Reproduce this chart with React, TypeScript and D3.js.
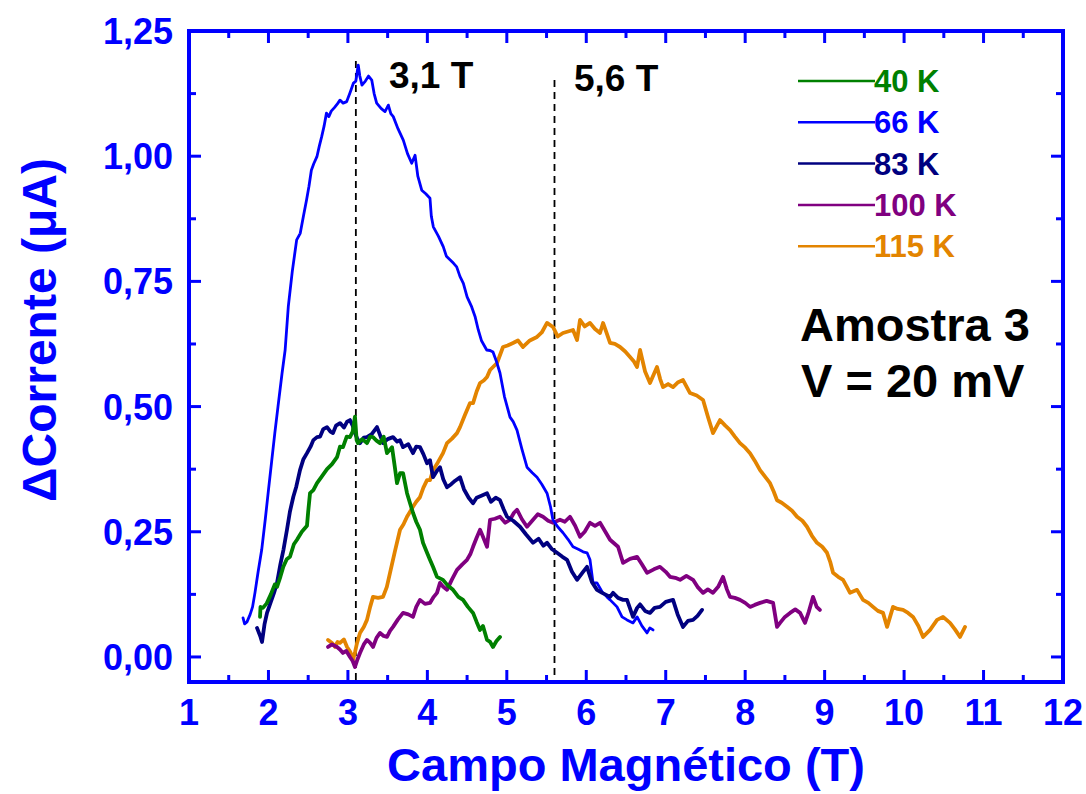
import React from "react";
import * as d3 from "d3";

// ΔCorrente (μA) versus magnetic field for sample 3, at V = 20 mV
type Pt = [number, number];

const temps40: Pt[] = [
  [1.894,0.080],[1.90,0.100],[1.93,0.098],[1.978,0.107],[2.03,0.125],[2.08,0.145],[2.108,0.140],[2.15,0.160],
  [2.187,0.180],[2.23,0.195],[2.271,0.200],[2.32,0.225],[2.359,0.234],[2.42,0.250],[2.485,0.262],[2.50,0.290],
  [2.523,0.327],[2.565,0.333],[2.611,0.347],[2.67,0.360],[2.737,0.375],[2.80,0.385],[2.863,0.399],[2.90,0.420],
  [2.938,0.419],[2.985,0.440],[3.026,0.439],[3.06,0.450],[3.089,0.480],[3.11,0.433],[3.127,0.427],[3.18,0.435],
  [3.240,0.427],[3.28,0.440],[3.316,0.439],[3.36,0.432],[3.404,0.427],[3.45,0.440],[3.492,0.407],[3.555,0.419],
  [3.59,0.380],[3.618,0.347],[3.656,0.367],[3.694,0.367],[3.744,0.327],[3.782,0.307],[3.819,0.288],[3.86,0.270],
  [3.907,0.254],[3.945,0.228],[3.996,0.208],[4.03,0.195],[4.071,0.180],[4.121,0.160],[4.197,0.154],[4.26,0.142],
  [4.323,0.134],[4.39,0.120],[4.449,0.114],[4.51,0.100],[4.575,0.088],[4.62,0.070],[4.663,0.054],[4.70,0.062],
  [4.751,0.034],[4.79,0.030],[4.826,0.020],[4.87,0.032],[4.914,0.040],
];

const temps66: Pt[] = [
  [1.68,0.078],[1.70,0.066],[1.73,0.070],[1.77,0.085],[1.80,0.100],[1.83,0.128],[1.87,0.170],[1.915,0.214],
  [1.96,0.275],[2.00,0.333],[2.04,0.390],[2.08,0.447],[2.12,0.500],[2.17,0.565],[2.21,0.613],[2.25,0.700],
  [2.30,0.770],[2.355,0.833],[2.40,0.846],[2.44,0.880],[2.48,0.913],[2.51,0.940],[2.54,0.972],[2.57,0.985],
  [2.61,0.999],[2.64,1.020],[2.67,1.039],[2.70,1.060],[2.73,1.086],[2.76,1.079],[2.79,1.090],[2.83,1.097],
  [2.87,1.105],[2.90,1.112],[2.94,1.106],[2.985,1.109],[3.03,1.128],[3.07,1.146],[3.10,1.150],[3.13,1.182],
  [3.15,1.160],[3.177,1.142],[3.22,1.150],[3.26,1.160],[3.30,1.152],[3.33,1.125],[3.362,1.106],[3.42,1.095],
  [3.467,1.089],[3.509,1.102],[3.54,1.085],[3.571,1.079],[3.63,1.055],[3.697,1.032],[3.75,1.005],[3.803,0.986],
  [3.845,1.002],[3.88,0.960],[3.929,0.932],[3.98,0.925],[4.033,0.916],[4.05,0.880],[4.075,0.859],[4.14,0.840],
  [4.201,0.819],[4.24,0.800],[4.285,0.793],[4.33,0.786],[4.369,0.779],[4.41,0.760],[4.453,0.746],[4.50,0.719],
  [4.558,0.699],[4.60,0.680],[4.641,0.653],[4.68,0.632],[4.747,0.613],[4.79,0.612],[4.826,0.609],[4.87,0.590],
  [4.914,0.567],[4.97,0.520],[5.04,0.479],[5.08,0.470],[5.128,0.453],[5.19,0.415],[5.254,0.379],[5.32,0.368],
  [5.38,0.359],[5.44,0.345],[5.506,0.327],[5.55,0.300],[5.58,0.274],[5.64,0.260],[5.707,0.248],[5.77,0.235],
  [5.833,0.220],[5.90,0.215],[5.96,0.210],[6.01,0.208],[6.047,0.194],[6.085,0.148],[6.135,0.148],[6.20,0.130],
  [6.26,0.120],[6.30,0.114],[6.387,0.100],[6.45,0.080],[6.513,0.074],[6.588,0.068],[6.64,0.080],[6.70,0.062],
  [6.765,0.048],[6.80,0.058],[6.84,0.054],
];

const temps83: Pt[] = [
  [1.856,0.058],[1.90,0.040],[1.919,0.030],[1.95,0.065],[1.982,0.088],[2.03,0.110],[2.07,0.128],[2.108,0.148],
  [2.15,0.185],[2.19,0.215],[2.233,0.254],[2.27,0.290],[2.313,0.320],[2.35,0.340],[2.397,0.373],[2.44,0.395],
  [2.485,0.407],[2.53,0.420],[2.565,0.433],[2.611,0.439],[2.65,0.440],[2.69,0.455],[2.737,0.459],[2.78,0.450],
  [2.812,0.447],[2.85,0.462],[2.901,0.467],[2.95,0.458],[2.99,0.470],[3.026,0.473],[3.06,0.462],[3.089,0.447],
  [3.12,0.435],[3.152,0.427],[3.20,0.438],[3.240,0.439],[3.30,0.445],[3.366,0.459],[3.40,0.445],[3.442,0.427],
  [3.50,0.435],[3.568,0.439],[3.62,0.430],[3.656,0.433],[3.694,0.419],[3.76,0.425],[3.819,0.407],[3.860,0.420],
  [3.907,0.419],[3.95,0.405],[3.996,0.387],[4.033,0.393],[4.071,0.359],[4.121,0.372],[4.159,0.379],[4.20,0.355],
  [4.247,0.339],[4.30,0.345],[4.35,0.352],[4.411,0.359],[4.46,0.335],[4.52,0.318],[4.575,0.307],[4.62,0.318],
  [4.68,0.322],[4.751,0.327],[4.80,0.310],[4.86,0.318],[4.914,0.313],[4.96,0.295],[5.003,0.280],[5.08,0.272],
  [5.166,0.260],[5.24,0.245],[5.330,0.228],[5.40,0.236],[5.46,0.222],[5.506,0.228],[5.57,0.215],[5.632,0.208],
  [5.70,0.200],[5.758,0.194],[5.82,0.170],[5.884,0.154],[5.95,0.168],[6.009,0.180],[6.07,0.150],[6.135,0.134],
  [6.20,0.128],[6.30,0.120],[6.337,0.128],[6.40,0.118],[6.463,0.114],[6.513,0.114],[6.588,0.080],[6.64,0.098],
  [6.677,0.105],[6.74,0.092],[6.802,0.088],[6.86,0.098],[6.928,0.100],[7.00,0.110],[7.092,0.114],[7.15,0.085],
  [7.218,0.060],[7.28,0.072],[7.344,0.074],[7.40,0.082],[7.457,0.094],
];

const temps100: Pt[] = [
  [2.750,0.020],[2.80,0.025],[2.863,0.020],[2.90,0.015],[2.938,0.008],[2.98,0.012],[3.026,0.000],[3.06,-0.008],
  [3.089,-0.020],[3.12,-0.005],[3.152,0.008],[3.20,0.025],[3.240,0.034],[3.28,0.028],[3.316,0.020],[3.36,0.038],
  [3.404,0.048],[3.45,0.042],[3.492,0.040],[3.53,0.052],[3.568,0.060],[3.63,0.075],[3.694,0.088],[3.76,0.085],
  [3.819,0.080],[3.86,0.100],[3.907,0.114],[3.97,0.106],[4.033,0.108],[4.08,0.120],[4.121,0.128],[4.159,0.148],
  [4.20,0.140],[4.247,0.134],[4.31,0.155],[4.373,0.174],[4.44,0.185],[4.499,0.194],[4.54,0.205],[4.575,0.220],
  [4.62,0.238],[4.663,0.254],[4.70,0.240],[4.751,0.220],[4.789,0.274],[4.85,0.276],[4.914,0.280],[4.98,0.268],
  [5.040,0.274],[5.09,0.288],[5.128,0.294],[5.19,0.275],[5.254,0.260],[5.330,0.274],[5.39,0.285],[5.456,0.280],
  [5.52,0.272],[5.581,0.268],[5.669,0.274],[5.73,0.270],[5.795,0.280],[5.86,0.262],[5.921,0.240],[5.98,0.250],
  [6.047,0.268],[6.11,0.262],[6.173,0.268],[6.24,0.250],[6.299,0.234],[6.40,0.220],[6.463,0.188],[6.55,0.196],
  [6.639,0.200],[6.70,0.185],[6.765,0.168],[6.85,0.175],[6.928,0.180],[7.00,0.170],[7.054,0.160],[7.12,0.158],
  [7.180,0.154],[7.26,0.162],[7.344,0.154],[7.40,0.140],[7.470,0.128],[7.53,0.135],[7.595,0.128],[7.66,0.140],
  [7.721,0.160],[7.77,0.135],[7.809,0.120],[7.87,0.118],[7.935,0.114],[8.00,0.108],[8.061,0.100],[8.12,0.104],
  [8.187,0.108],[8.27,0.112],[8.351,0.108],[8.401,0.060],[8.439,0.068],[8.50,0.080],[8.565,0.088],[8.63,0.095],
  [8.691,0.088],[8.753,0.068],[8.80,0.090],[8.854,0.120],[8.90,0.100],[8.94,0.094],
];

const temps115: Pt[] = [
  [2.750,0.034],[2.80,0.028],[2.838,0.020],[2.87,0.030],[2.901,0.028],[2.95,0.035],[2.989,0.020],[3.03,0.010],
  [3.064,-0.006],[3.09,0.010],[3.115,0.028],[3.152,0.048],[3.20,0.060],[3.240,0.074],[3.28,0.100],[3.316,0.120],
  [3.38,0.118],[3.442,0.120],[3.49,0.140],[3.530,0.168],[3.59,0.210],[3.656,0.254],[3.70,0.265],[3.744,0.280],
  [3.782,0.290],[3.819,0.300],[3.86,0.310],[3.907,0.319],[3.95,0.338],[3.996,0.353],[4.033,0.353],[4.071,0.373],
  [4.13,0.388],[4.197,0.407],[4.247,0.427],[4.31,0.436],[4.373,0.447],[4.411,0.459],[4.47,0.482],[4.537,0.507],
  [4.575,0.507],[4.62,0.530],[4.663,0.547],[4.71,0.552],[4.751,0.559],[4.789,0.573],[4.877,0.587],[4.952,0.619],
  [5.01,0.622],[5.078,0.627],[5.14,0.632],[5.204,0.619],[5.29,0.632],[5.380,0.639],[5.44,0.648],[5.506,0.667],
  [5.581,0.659],[5.64,0.640],[5.707,0.647],[5.77,0.650],[5.833,0.653],[5.884,0.633],[5.921,0.673],[5.98,0.660],
  [6.047,0.667],[6.11,0.655],[6.173,0.647],[6.211,0.667],[6.26,0.645],[6.299,0.627],[6.36,0.625],[6.425,0.619],
  [6.49,0.610],[6.551,0.599],[6.60,0.590],[6.639,0.579],[6.677,0.613],[6.74,0.570],[6.802,0.547],[6.890,0.579],
  [6.93,0.555],[6.966,0.539],[7.03,0.545],[7.092,0.539],[7.15,0.548],[7.218,0.553],[7.306,0.527],[7.39,0.522],
  [7.470,0.513],[7.53,0.480],[7.595,0.447],[7.683,0.473],[7.75,0.462],[7.809,0.453],[7.87,0.440],[7.935,0.427],
  [8.00,0.418],[8.061,0.407],[8.12,0.392],[8.187,0.373],[8.25,0.360],[8.313,0.347],[8.36,0.330],[8.401,0.313],
  [8.46,0.308],[8.527,0.300],[8.59,0.292],[8.653,0.280],[8.72,0.272],[8.778,0.260],[8.84,0.242],[8.904,0.228],
  [8.97,0.220],[9.030,0.208],[9.07,0.190],[9.106,0.168],[9.17,0.160],[9.232,0.154],[9.28,0.140],[9.320,0.128],
  [9.408,0.134],[9.483,0.114],[9.55,0.108],[9.609,0.100],[9.67,0.092],[9.735,0.088],[9.786,0.060],[9.861,0.100],
  [9.92,0.096],[9.987,0.094],[10.05,0.088],[10.113,0.080],[10.18,0.062],[10.239,0.040],[10.327,0.054],[10.415,0.074],
  [10.490,0.080],[10.578,0.068],[10.64,0.055],[10.704,0.040],[10.767,0.060],
];

const seriesLabels = ["40 K", "66 K", "83 K", "100 K", "115 K"];
const seriesData = [temps40, temps66, temps83, temps100, temps115];
const seriesColors = ["#008000", "#0000FF", "#000080", "#800080", "#E38400"];
// draw order: back to front
const drawOrder = [4, 3, 1, 2, 0];

const xMajorTicks = [1, 2, 3, 4, 5, 6, 7, 8, 9, 10, 11, 12];
const yMajorTicks = [0, 0.25, 0.5, 0.75, 1.0, 1.25];

const markerFields = [3.1, 5.6];
const markerTops = [1.19, 1.152];
const markerLabels = ["3,1 T", "5,6 T"];

const W = 1086;
const H = 794;
const FONT = "'Liberation Sans', Arial, Helvetica, sans-serif";
const AXIS_BLUE = "#0000FF";

export default function App() {
  const x = d3.scaleLinear().domain([1, 12]).range([189, 1063]);
  const y = d3.scaleLinear().domain([-0.05, 1.25]).range([682, 31]);
  const [x0, x1] = x.range();
  const [y0, y1] = y.range();

  const line = d3
    .line<Pt>()
    .x((d) => x(d[0]))
    .y((d) => y(d[1]));

  const xMinor = xMajorTicks.slice(0, -1).map((v) => v + 0.5);
  const yMinor = yMajorTicks.slice(0, -1).map((v) => v + 0.125);
  const fmtY = (v: number) => d3.format(".2f")(v).replace(".", ",");

  const majorLen = 12;
  const minorLen = 7;

  return (
    <div style={{ position: "absolute", left: 0, top: 0 }}>
      <svg width={W} height={H} style={{ display: "block", background: "#fff" }}>
        <defs>
          <clipPath id="plotClip">
            <rect x={x0} y={y1} width={x1 - x0} height={y0 - y1} />
          </clipPath>
        </defs>

        {/* dashed guides at the peak fields */}
        {markerFields.map((f, i) => (
          <line
            key={"m" + i}
            x1={x(f)}
            x2={x(f)}
            y1={y(markerTops[i])}
            y2={y0}
            stroke="#000"
            strokeWidth={1.8}
            strokeDasharray="7,5"
          />
        ))}

        {/* data curves */}
        <g clipPath="url(#plotClip)" fill="none" strokeLinejoin="round" strokeLinecap="round">
          {drawOrder.map((i) => (
            <path
              key={"s" + i}
              d={line(seriesData[i]) || ""}
              stroke={seriesColors[i]}
              strokeWidth={i === 1 ? 2.8 : 3.8}
            />
          ))}
        </g>

        {/* ticks (inside, on all four sides) */}
        <g stroke={AXIS_BLUE} strokeWidth={3}>
          {xMajorTicks.map((v) => (
            <g key={"xt" + v}>
              <line x1={x(v)} x2={x(v)} y1={y0} y2={y0 - majorLen} />
              <line x1={x(v)} x2={x(v)} y1={y1} y2={y1 + majorLen} />
            </g>
          ))}
          {xMinor.map((v) => (
            <g key={"xm" + v}>
              <line x1={x(v)} x2={x(v)} y1={y0} y2={y0 - minorLen} />
              <line x1={x(v)} x2={x(v)} y1={y1} y2={y1 + minorLen} />
            </g>
          ))}
          {yMajorTicks.map((v) => (
            <g key={"yt" + v}>
              <line x1={x0} x2={x0 + majorLen} y1={y(v)} y2={y(v)} />
              <line x1={x1} x2={x1 - majorLen} y1={y(v)} y2={y(v)} />
            </g>
          ))}
          {yMinor.map((v) => (
            <g key={"ym" + v}>
              <line x1={x0} x2={x0 + minorLen} y1={y(v)} y2={y(v)} />
              <line x1={x1} x2={x1 - minorLen} y1={y(v)} y2={y(v)} />
            </g>
          ))}
        </g>

        {/* frame */}
        <rect
          x={x0}
          y={y1}
          width={x1 - x0}
          height={y0 - y1}
          fill="none"
          stroke={AXIS_BLUE}
          strokeWidth={4}
        />

        {/* tick labels */}
        <g fill={AXIS_BLUE} fontFamily={FONT} fontWeight="bold" fontSize={36}>
          {xMajorTicks.map((v) => (
            <text key={"xl" + v} x={x(v)} y={725} textAnchor="middle">
              {v}
            </text>
          ))}
          {yMajorTicks.map((v) => (
            <text key={"yl" + v} x={173} y={y(v)} dy="0.36em" textAnchor="end">
              {fmtY(v)}
            </text>
          ))}
        </g>

        {/* axis titles */}
        <text
          x={(x0 + x1) / 2}
          y={781}
          textAnchor="middle"
          fill={AXIS_BLUE}
          fontFamily={FONT}
          fontWeight="bold"
          fontSize={47}
        >
          Campo Magnético (T)
        </text>
        <text
          transform={`translate(56, ${330}) rotate(-90)`}
          textAnchor="middle"
          fill={AXIS_BLUE}
          fontFamily={FONT}
          fontWeight="bold"
          fontSize={48}
        >
          ΔCorrente (μA)
        </text>

        {/* marker labels */}
        <g fontFamily={FONT} fontWeight="bold" fontSize={37} fill="#000">
          <text x={389} y={88}>{markerLabels[0]}</text>
          <text x={574} y={91}>{markerLabels[1]}</text>
        </g>

        {/* legend */}
        <g fontFamily={FONT} fontWeight="bold" fontSize={31}>
          {seriesLabels.map((lab, i) => {
            const ly = 81 + i * 41.3;
            return (
              <g key={"lg" + i}>
                <line x1={798} x2={875} y1={ly} y2={ly} stroke={seriesColors[i]} strokeWidth={2.5} />
                <text x={874} y={ly + 11} fill={seriesColors[i]}>
                  {lab}
                </text>
              </g>
            );
          })}
        </g>

        {/* sample note */}
        <g fontFamily={FONT} fontWeight="bold" fontSize={47} fill="#000">
          <text x={800} y={341}>Amostra 3</text>
          <text x={801} y={397}>V = 20 mV</text>
        </g>
      </svg>
    </div>
  );
}
